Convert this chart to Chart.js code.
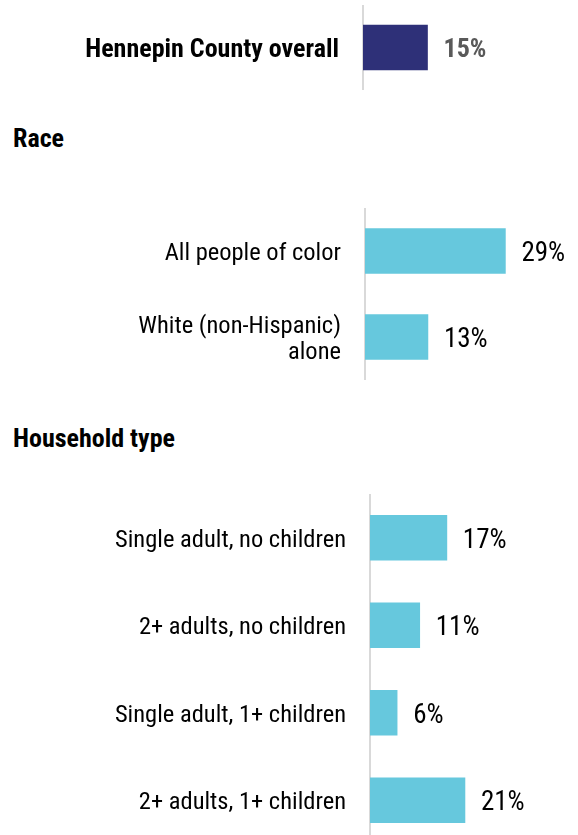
<!DOCTYPE html>
<html>
<head>
<meta charset="utf-8">
<script src="https://cdn.jsdelivr.net/npm/chart.js@4.4.0/dist/chart.umd.min.js"></script>
<style>
  html, body { margin: 0; padding: 0; background: #fff; overflow: hidden; width: 578px; height: 835px; }
  canvas { position: absolute; left: 0; }
  .head { position: absolute; left: 13px; font: bold 26px "Roboto Condensed", "Liberation Sans", sans-serif; color: #000; line-height: 30px; }
</style>
</head>
<body>
<canvas id="overallChart" width="578" height="85" style="top:5px"></canvas>
<div class="head" style="top:123px">Race</div>
<canvas id="raceChart" width="578" height="172" style="top:208px"></canvas>
<div class="head" style="top:423px">Household type</div>
<canvas id="householdChart" width="578" height="350" style="top:494px"></canvas>
<script>
// Share of residents (percent)
const overallLabels = ['Hennepin County overall'];
const overallValues = [15];

const raceLabels = ['All people of color', ['White (non-Hispanic)', 'alone']];
const raceValues = [29, 13];

const householdLabels = [
    'Single adult, no children',
    '2+ adults, no children',
    'Single adult, 1+ children',
    '2+ adults, 1+ children'
];
const householdValues = [17, 11, 6, 21];

const FONT = '"Roboto Condensed", "Liberation Sans", sans-serif';

// draws the "15%" style labels next to the bars
const valueLabels = {
    id: 'valueLabels',
    afterDatasetsDraw(chart, args, opts) {
        const ctx = chart.ctx;
        const meta = chart.getDatasetMeta(0);
        ctx.save();
        ctx.font = (opts.bold ? 'bold 26px ' : '27px ') + FONT;
        ctx.fillStyle = opts.color || '#000';
        ctx.textBaseline = 'middle';
        ctx.textAlign = 'left';
        meta.data.forEach((bar, i) => {
            const v = chart.data.datasets[0].data[i];
            ctx.fillText(v + '%', bar.x + 16, bar.y + 3);
        });
        ctx.restore();
    }
};

function makeChart(id, labels, values, opts) {
    const ctx = document.getElementById(id).getContext('2d');
    return new Chart(ctx, {
        type: 'bar',
        data: {
            labels: labels,
            datasets: [{
                data: values,
                backgroundColor: opts.color,
                barThickness: 45,
                borderWidth: 0
            }]
        },
        options: {
            indexAxis: 'y',
            responsive: false,
            animation: false,
            layout: { padding: 0 },
            plugins: {
                legend: { display: false },
                tooltip: { enabled: false },
                valueLabels: { bold: opts.bold, color: opts.labelColor }
            },
            scales: {
                x: {
                    display: false,
                    min: 0,
                    max: opts.max
                },
                y: {
                    grid: { display: false, drawTicks: false },
                    border: { display: true, color: '#d9d9d9', width: 2 },
                    afterFit: scale => {
                        scale.width = opts.axisX;
                        scale.paddingTop = 0;
                        scale.paddingBottom = 0;
                    },
                    ticks: {
                        padding: 24,
                        labelOffset: 3,
                        color: '#000',
                        font: { family: FONT, size: opts.bold ? 26 : 24.5, weight: opts.bold ? 'bold' : 'normal', lineHeight: 1.05 }
                    }
                }
            }
        },
        plugins: [valueLabels]
    });
}

makeChart('overallChart', overallLabels, overallValues, { color: '#2e3078', max: 50, axisX: 363, bold: true, labelColor: '#595959' });
makeChart('raceChart', raceLabels, raceValues, { color: '#66c8dd', max: 44, axisX: 365 });
makeChart('householdChart', householdLabels, householdValues, { color: '#66c8dd', max: 46, axisX: 370 });
</script>
</body>
</html>
